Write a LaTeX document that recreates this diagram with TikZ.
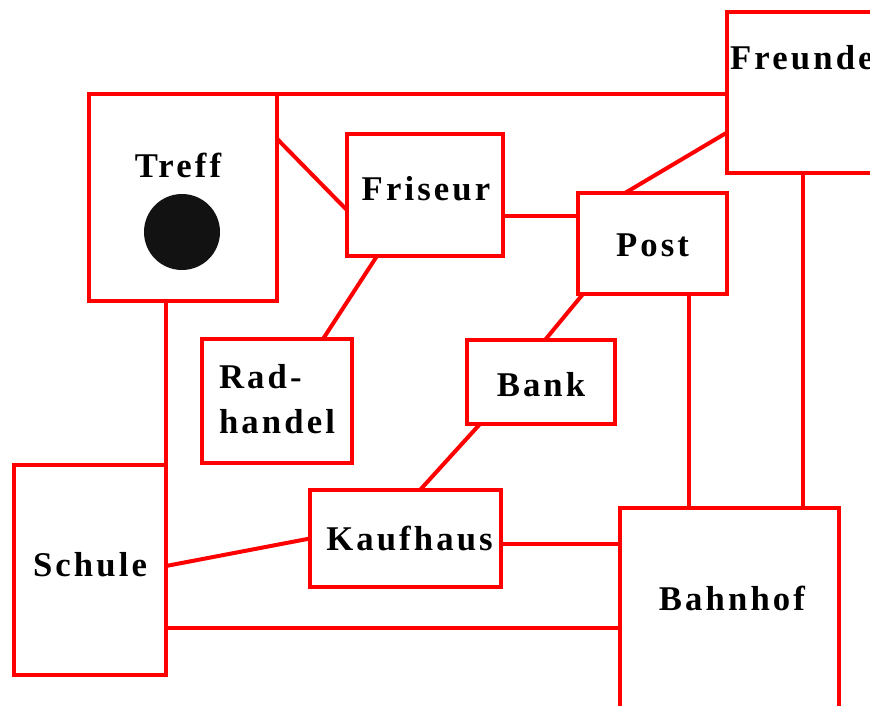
\documentclass[tikz,border=0pt]{standalone}
\usepackage{fontspec}
\setmainfont{Liberation Serif}[LetterSpace=9]
\usetikzlibrary{calc}
\tikzstyle{line} = [draw=red, line width=4pt]
\tikzstyle{place} = [draw=red, line width=4pt, rectangle, inner sep=0pt, outer sep=0pt]
\tikzstyle{spot} = [circle, fill=black!93, inner sep=0pt, minimum size=76pt]

\begin{document}
\begin{tikzpicture}[x=1pt, y=-1pt, font=\bfseries\fontsize{34.7}{45}\selectfont, every label/.style={inner sep=0pt}]
        \clip (0,0) rectangle (870,706);
        \node[place, minimum width=188pt, minimum height=207pt, label={[xshift=-5pt, yshift=32.5pt]center:Treff}] (treff) at (183,197.5) {};
        \node[spot] (dot) at (182,232) {};
        \node[place, minimum width=233pt, minimum height=161pt, label={[anchor=west, xshift=3pt, yshift=34.5pt]west:Freunde}] (freunde) at (843.5,92.5) {};
        \node[place, minimum width=156pt, minimum height=122pt, label={[xshift=1pt, yshift=6pt]center:Friseur}] (friseur) at (425,195) {};
        \node[place, minimum width=149pt, minimum height=101pt, label={[yshift=-1.5pt]center:Post}] (post) at (652.5,243.5) {};
        \node[place, minimum width=150pt, minimum height=124pt, label={[align=left, yshift=1.5pt]center:Rad-\\handel}] (rad) at (277,401) {};
        \node[place, minimum width=148pt, minimum height=84pt, label={[yshift=-3pt]center:Bank}] (bank) at (541,382) {};
        \node[place, minimum width=152pt, minimum height=210pt, label={[yshift=5pt]center:Schule}] (schule) at (90,570) {};
        \node[place, minimum width=191pt, minimum height=97pt, label={[xshift=4pt]center:Kaufhaus}] (kaufhaus) at (405.5,538.5) {};
        \node[place, minimum width=219pt, minimum height=212pt, label={[xshift=2.5pt, yshift=16pt]center:Bahnhof}] (bahnhof) at (729.5,614) {};
        \path[line] (treff.north east) -- (treff.north east -| freunde.west);
        \path[line] (treff.32) -- (friseur.191);
        \path[line] ([yshift=-21pt]friseur.east) -- ([yshift=-21pt]friseur.east -| post.west);
        \path[line] ([xshift=-27.5pt]post.north) -- ([yshift=-40pt]freunde.west);
        \path[line] ([xshift=-48pt]friseur.south) -- ([xshift=46pt]rad.north);
        \path[line] ([xshift=5pt]post.south west) -- ([xshift=4pt]bank.north);
        \path[line] ([xshift=-61pt]bank.south) -- ([xshift=14.5pt]kaufhaus.north);
        \path[line] ([xshift=36pt]post.south) -- ([xshift=36pt]post.south |- bahnhof.north);
        \path[line] ([xshift=-40.5pt]freunde.south) -- ([xshift=-40.5pt]freunde.south |- bahnhof.north);
        \path[line] (schule.north east) -- (schule.north east |- treff.south);
        \path[line] ([yshift=4pt]schule.east) -- (kaufhaus.west);
        \path[line] ([yshift=-5.5pt]kaufhaus.east) -- ([yshift=-5.5pt]kaufhaus.east -| bahnhof.west);
        \path[line] ([yshift=-58pt]schule.east) -- ([yshift=-58pt]schule.east -| bahnhof.west);
    \end{tikzpicture}
\end{document}
